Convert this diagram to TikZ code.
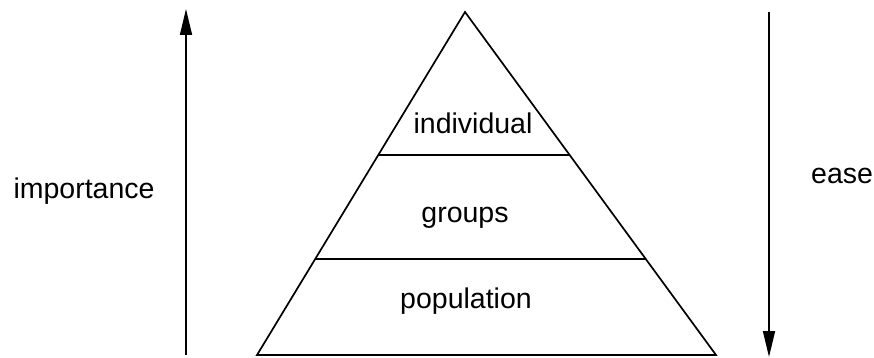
\documentclass[tikz,border=0pt]{standalone}
\usepackage{fontspec}
\setmainfont{Liberation Sans}
\usetikzlibrary{arrows.meta,positioning,calc}
\tikzset{
  edge/.style={line width=1.7pt,line join=miter},
  axis/.style={-{Triangle[length=26pt,width=12pt]},line width=1.7pt},
  lbl/.style={font=\fontsize{28.5}{32}\selectfont,anchor=base,inner sep=0pt},
}

\begin{document}
\begin{tikzpicture}[x=1pt,y=-1pt]
  \useasboundingbox (0,0) rectangle (874,358);

  % pyramid
  \coordinate (apex) at (465,12);
  \coordinate (bl) at (257,355);
  \coordinate (br) at (716,355);
  \draw[edge] (bl) -- (apex) -- (br) -- cycle;
  \draw[edge] ($(apex)!0.417!(bl)$) coordinate (l1) -- ($(apex)!0.417!(br)$) coordinate (r1);
  \draw[edge] ($(apex)!0.72!(bl)$) coordinate (l2) -- ($(apex)!0.72!(br)$) coordinate (r2);

  \node[lbl] (indiv) at (473,134) {individual};
  \node[lbl] (grp) at (465,222) {groups};
  \node[lbl] (pop) at (466,308) {population};

  % axes
  \coordinate (impbot) at (186,355);
  \coordinate (imptop) at (186,9);
  \draw[axis] (impbot) -- (imptop);
  \node[lbl] (imp) at (84,198) {importance};

  \coordinate (easetop) at (769,12);
  \coordinate (easebot) at (769,357);
  \draw[axis] (easetop) -- (easebot);
  \node[lbl,anchor=base west] (ease) at (811,183) {ease};
\end{tikzpicture}
\end{document}
